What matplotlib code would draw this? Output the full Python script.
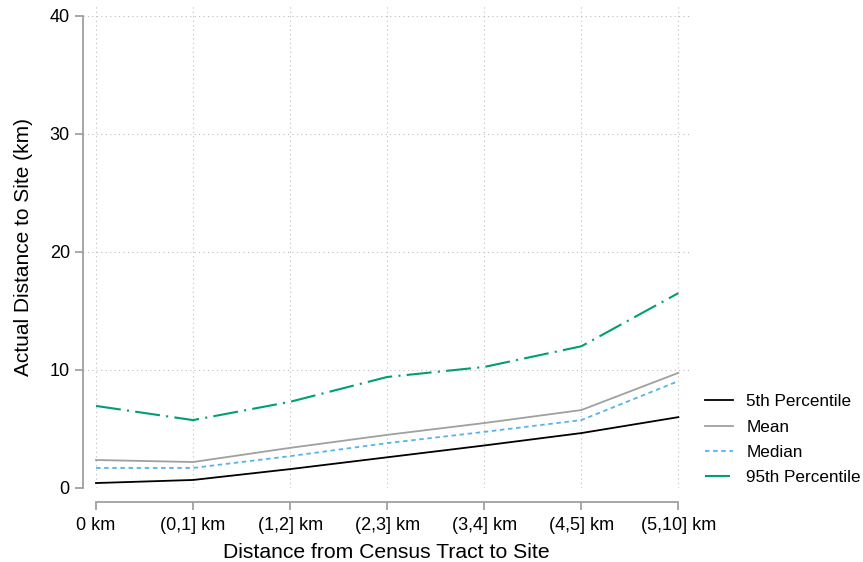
import matplotlib.pyplot as plt

plt.rcParams['font.family'] = ['Liberation Sans', 'DejaVu Sans']

categories = ["0 km", "(0,1] km", "(1,2] km", "(2,3] km", "(3,4] km", "(4,5] km", "(5,10] km"]
p5 = [0.42, 0.68, 1.6, 2.6, 3.6, 4.65, 6.0]
mean = [2.37, 2.2, 3.4, 4.5, 5.5, 6.6, 9.75]
median = [1.7, 1.7, 2.7, 3.8, 4.75, 5.75, 9.05]
p95 = [6.95, 5.75, 7.3, 9.4, 10.25, 12.0, 16.5]
yticks = [0, 10, 20, 30, 40]

fig = plt.figure(figsize=(8.63, 5.62), dpi=100)
ax = fig.add_axes([83 / 863, (562 - 488) / 562, (690 - 83) / 863, (488 - 5) / 562])

x = list(range(len(categories)))
ax.plot(x, p5, color="black", lw=1.3, label="5th Percentile")
ax.plot(x, mean, color="#a0a0a0", lw=1.3, label="Mean")
ax.plot(x, median, color="#56b4e9", lw=1.3, linestyle=(0, (2.5, 2)), label="Median")
ax.plot(x, p95, color="#009e73", lw=1.5, linestyle=(0, (12, 3, 1, 3)), label="95th Percentile")

ax.set_xlim(-0.134, 6.12)
ax.set_ylim(0, 40.9)
ax.set_xticks(x)
ax.set_xticklabels(categories)
ax.set_yticks(yticks)

ax.grid(True, color="#bdbdbd", linestyle=(0, (1, 3)), lw=0.8)
ax.set_axisbelow(True)

for s in ["top", "right"]:
    ax.spines[s].set_visible(False)
ax.spines["left"].set_bounds(0, 40)
ax.spines["bottom"].set_bounds(0, 6)
ax.spines["bottom"].set_position(("outward", 10))
for s in ["left", "bottom"]:
    ax.spines[s].set_color("#a0a0a0")
    ax.spines[s].set_linewidth(1.3)
ax.tick_params(axis="both", colors="#a0a0a0", length=6, width=1.3, labelcolor="black", labelsize=13)
ax.tick_params(axis="x", pad=5)

ax.set_xlabel("Distance from Census Tract to Site", fontsize=15.2, labelpad=6)
ax.set_ylabel("Actual Distance to Site (km)", fontsize=15, labelpad=12)

ax.legend(loc="center left", bbox_to_anchor=(1.0, 0.1), frameon=False, fontsize=12.3,
          handlelength=1.6, labelspacing=0.6)

fig.savefig("out.png", dpi=100)
